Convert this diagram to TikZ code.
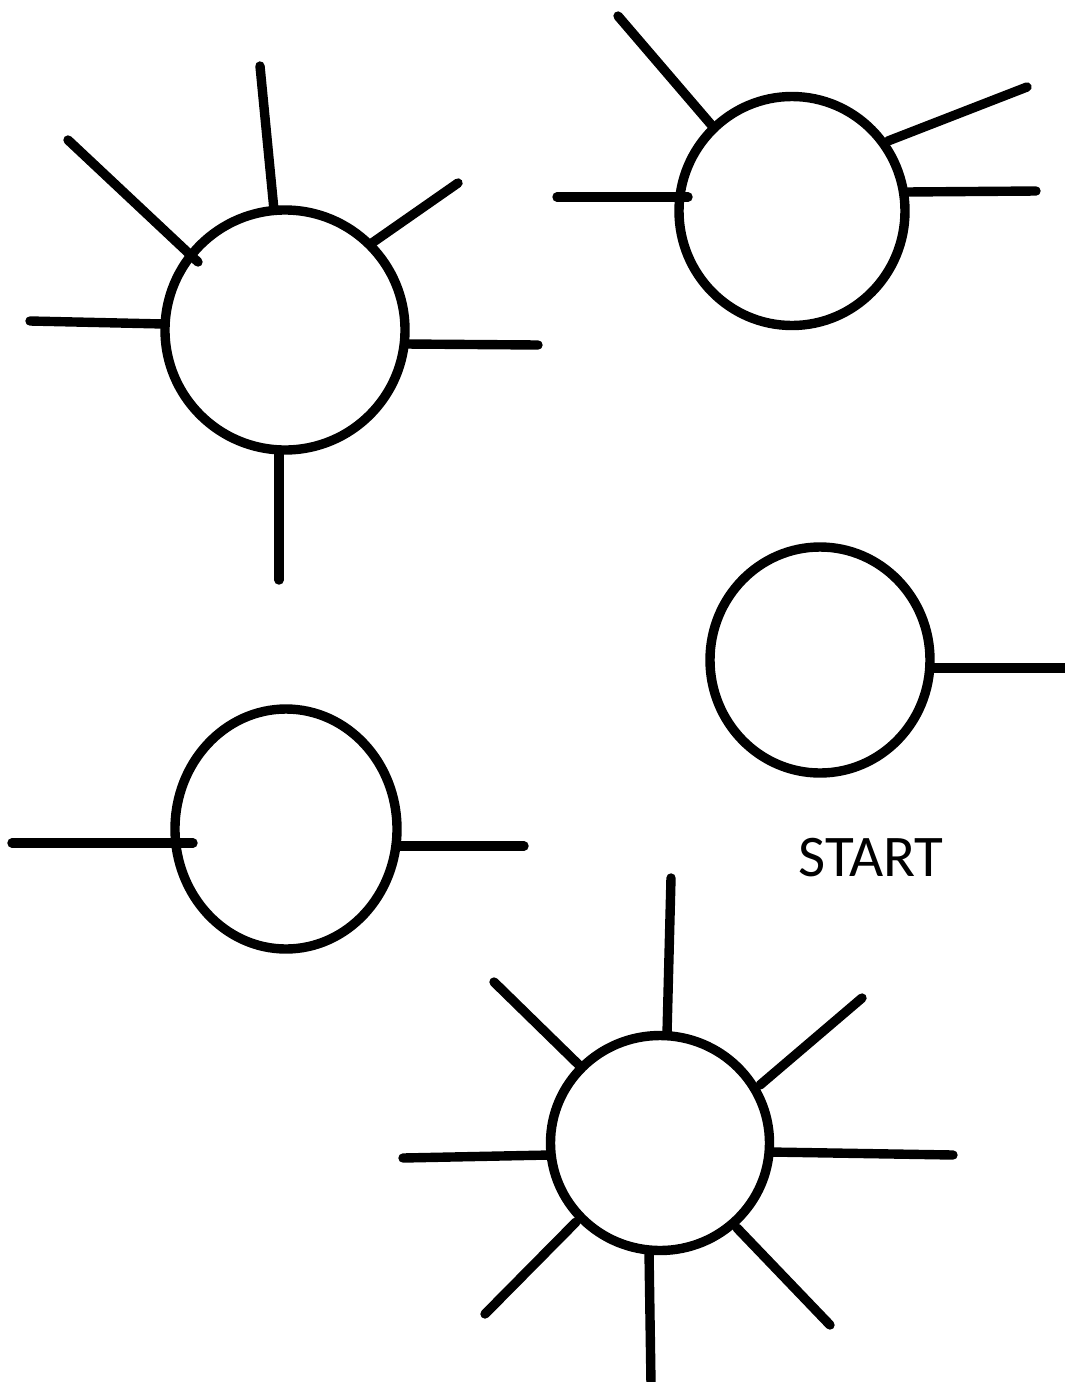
\documentclass[tikz,border=0pt]{standalone}
\usepackage{fontspec}
\setmainfont{Carlito}
\usetikzlibrary{shapes.geometric}
\begin{document}
\begin{tikzpicture}[x=0.5pt,y=-0.5pt,
  ring/.style={draw=black,line width=4.7pt,ellipse,inner sep=0pt,outer sep=0pt},
  ray/.style={draw=black,line width=4.7pt,line cap=round},
  label/.style={font=\fontsize{29.5pt}{32pt}\selectfont,text=black}]
\useasboundingbox (0,0) rectangle (1065,1382);

% rings (sizes in pt, half of the pixel size)
\node[ring,minimum width=120pt,minimum height=120pt] (a) at (285,330) {};
\node[ring,minimum width=113pt,minimum height=114.5pt] (b) at (792,211) {};
\node[ring,minimum width=110pt,minimum height=113pt] (c) at (820,660) {};
\node[ring,minimum width=111pt,minimum height=120pt] (d) at (286,829) {};
\node[ring,minimum width=109.5pt,minimum height=107.5pt] (e) at (660,1143) {};

% rays of ring a
\coordinate (a1) at (30,321);   \coordinate (a1i) at (164,324);
\coordinate (a2) at (260,66);   \coordinate (a2i) at (274,210);
\coordinate (a3) at (68,140);   \coordinate (a3i) at (198,262);
\coordinate (a4) at (458,183);  \coordinate (a4i) at (372,243);
\coordinate (a5) at (538,345);  \coordinate (a5i) at (406,344);
\coordinate (a6) at (279,580);  \coordinate (a6i) at (279,450);
\foreach \i in {1,...,6} \draw[ray] (a\i) -- (a\i i);

% rays of ring b
\coordinate (b1) at (618,16);   \coordinate (b1i) at (714,128);
\coordinate (b2) at (557,197);  \coordinate (b2i) at (688,197);
\coordinate (b3) at (1027,87);  \coordinate (b3i) at (888,141);
\coordinate (b4) at (1036,191); \coordinate (b4i) at (906,192);
\foreach \i in {1,...,4} \draw[ray] (b\i) -- (b\i i);

% ray of ring c
\coordinate (c1) at (1066,668); \coordinate (c1i) at (931,668);
\draw[ray] (c1) -- (c1i);

% rays of ring d
\coordinate (d1) at (12,843);   \coordinate (d1i) at (193,843);
\coordinate (d2) at (524,846);  \coordinate (d2i) at (397,846);
\foreach \i in {1,2} \draw[ray] (d\i) -- (d\i i);

% rays of ring e
\coordinate (e1) at (671,878);  \coordinate (e1i) at (667,1034);
\coordinate (e2) at (494,982);  \coordinate (e2i) at (580,1066);
\coordinate (e3) at (862,998);  \coordinate (e3i) at (760,1085);
\coordinate (e4) at (403,1158); \coordinate (e4i) at (550,1155);
\coordinate (e5) at (953,1155); \coordinate (e5i) at (770,1152);
\coordinate (e6) at (485,1314); \coordinate (e6i) at (576,1222);
\coordinate (e7) at (651,1384); \coordinate (e7i) at (649,1251);
\coordinate (e8) at (830,1325); \coordinate (e8i) at (737,1228);
\foreach \i in {1,...,8} \draw[ray] (e\i) -- (e\i i);

% caption
\node[label] (start) at (871,858) {START};
\end{tikzpicture}
\end{document}
